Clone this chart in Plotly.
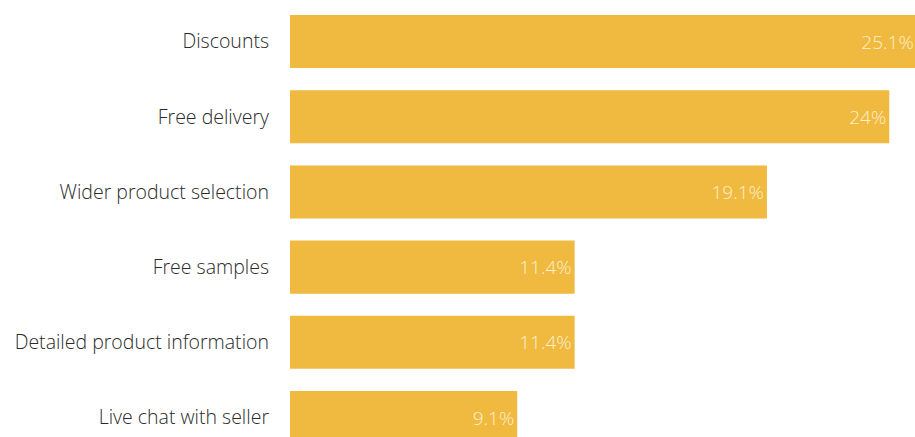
import plotly.graph_objects as go

categories = ["Discounts", "Free delivery", "Wider product selection", "Free samples",
              "Detailed product information", "Live chat with seller"]
values = [25.1, 24.0, 19.1, 11.4, 11.4, 9.1]
labels = ["25.1%", "24%", "19.1%", "11.4%", "11.4%", "9.1%"]

fig = go.Figure(go.Bar(
    y=categories, x=values, orientation="h",
    marker=dict(color="#F0B940", line=dict(width=0)),
    width=0.705,
    text=labels, textposition="inside", insidetextanchor="end",
    textfont=dict(family="Open Sans", size=19, color="#FDF0CC", weight=300),
    cliponaxis=True,
))

fig.update_layout(
    width=915, height=437,
    margin=dict(l=290, r=0, t=0, b=0),
    paper_bgcolor="white", plot_bgcolor="white",
    showlegend=False,
    uniformtext=dict(mode=False),
)
fig.update_xaxes(range=[0, 25.03], visible=False, fixedrange=True)
fig.update_yaxes(
    categoryorder="array", categoryarray=categories,
    range=[5.259, -0.552],
    showgrid=False, showline=False, zeroline=False,
    ticks="", ticklabelstandoff=20,
    tickfont=dict(family="Open Sans", size=19.5, color="#2a2a2a", weight=300),
)

fig.write_html("out.html")
